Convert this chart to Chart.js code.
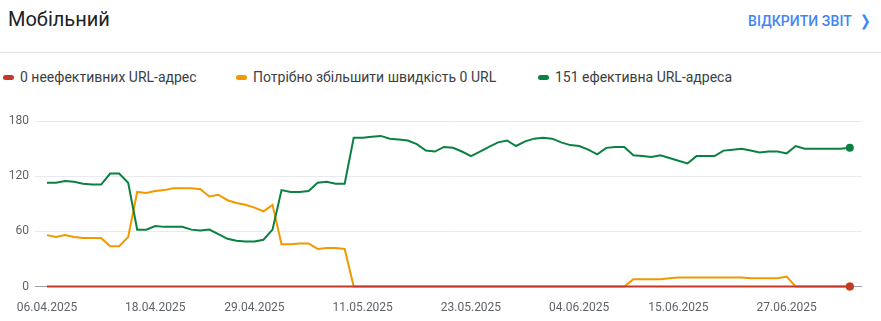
<!DOCTYPE html>
<html>
<head>
<meta charset="utf-8">
<script src="https://cdn.jsdelivr.net/npm/chart.js@4.4.1/dist/chart.umd.min.js"></script>
<style>
  html, body { margin: 0; padding: 0; background: #fff; }
  body { width: 881px; height: 321px; position: relative; overflow: hidden; font-family: Roboto, "Noto Sans", Arial, sans-serif; }
  #title { position: absolute; left: 8px; top: 7px; font-size: 20px; line-height: 24px; color: #202124; }
  #link { position: absolute; right: 9px; top: 12px; font-size: 14px; line-height: 18px; font-weight: 500; color: #4285f4; letter-spacing: 0.1px; }
  #link .chev { display: inline-block; margin-left: 7px; font-size: 15px; transform: scaleX(0.85); }
  #divider { position: absolute; left: 0; top: 52px; width: 881px; height: 1px; background: #e0e0e0; }
  .leg { position: absolute; top: 68px; font-size: 14px; line-height: 18px; color: #3c4043; white-space: nowrap; }
  .leg .mk { display: inline-block; width: 11px; height: 5px; border-radius: 2.5px; vertical-align: middle; margin-right: 6px; position: relative; top: -1px; }
  #wrap { position: absolute; left: 0; top: 108px; width: 881px; height: 221px; }
</style>
</head>
<body>
<div id="title">Мобільний</div>
<div id="link">ВІДКРИТИ ЗВІТ<span class="chev">❯</span></div>
<div id="divider"></div>
<div id="legend"></div>
<div id="wrap"><canvas id="c"></canvas></div>
<script>
const dates = [
  '06.04.2025','07.04.2025','08.04.2025','09.04.2025','10.04.2025','11.04.2025','12.04.2025','13.04.2025','14.04.2025','15.04.2025',
  '16.04.2025','17.04.2025','18.04.2025','19.04.2025','20.04.2025','21.04.2025','22.04.2025','23.04.2025','24.04.2025','25.04.2025',
  '26.04.2025','27.04.2025','28.04.2025','29.04.2025','30.04.2025',
  '01.05.2025','02.05.2025','03.05.2025','04.05.2025','05.05.2025','06.05.2025','07.05.2025','08.05.2025','09.05.2025','10.05.2025',
  '11.05.2025','12.05.2025','13.05.2025','14.05.2025','15.05.2025','16.05.2025','17.05.2025','18.05.2025','19.05.2025','20.05.2025',
  '21.05.2025','22.05.2025','23.05.2025','24.05.2025','25.05.2025','26.05.2025','27.05.2025','28.05.2025','29.05.2025','30.05.2025','31.05.2025',
  '01.06.2025','02.06.2025','03.06.2025','04.06.2025','05.06.2025','06.06.2025','07.06.2025','08.06.2025','09.06.2025','10.06.2025',
  '11.06.2025','12.06.2025','13.06.2025','14.06.2025','15.06.2025','16.06.2025','17.06.2025','18.06.2025','19.06.2025','20.06.2025',
  '21.06.2025','22.06.2025','23.06.2025','24.06.2025','25.06.2025','26.06.2025','27.06.2025','28.06.2025','29.06.2025','30.06.2025',
  '01.07.2025','02.07.2025','03.07.2025','04.07.2025'
];

const poorValues = [
  0,0,0,0,0,0,0,0,0,0, 0,0,0,0,0,0,0,0,0,0, 0,0,0,0,0,0,0,0,0,0,
  0,0,0,0,0,0,0,0,0,0, 0,0,0,0,0,0,0,0,0,0, 0,0,0,0,0,0,0,0,0,0,
  0,0,0,0,0,0,0,0,0,0, 0,0,0,0,0,0,0,0,0,0, 0,0,0,0,0,0,0,0,0,0
];

const needsImprovementValues = [
  56,54,56,54,53,53,53,44,44,54,
  103,102,104,105,107,107,107,106,98,100,
  94,91,89,86,82,89,46,46,47,47,
  41,42,42,41,0,0,0,0,0,0,
  0,0,0,0,0,0,0,0,0,0,
  0,0,0,0,0,0,0,0,0,0,
  0,0,0,0,0,8,8,8,8,9,
  10,10,10,10,10,10,10,10,9,9,
  9,9,11,0,0,0,0,0,0,0
];

const goodValues = [
  113,113,115,114,112,111,111,123,123,113,
  62,62,66,65,65,65,62,61,62,57,
  52,50,49,49,51,62,105,103,103,104,
  113,114,112,112,162,162,163,164,161,160,
  159,155,148,147,152,151,147,142,147,152,
  157,159,153,158,161,162,161,157,154,153,
  149,144,151,152,152,143,142,141,143,140,
  137,134,142,142,142,148,149,150,148,146,
  147,147,145,153,150,150,150,150,150,151
];

const tickLabels = ['06.04.2025','18.04.2025','29.04.2025','11.05.2025','23.05.2025','04.06.2025','15.06.2025','27.06.2025'];
const yTicks = [0, 60, 120, 180];

const seriesNames = ['0 неефективних URL-адрес', 'Потрібно збільшити швидкість 0 URL', '151 ефективна URL-адреса'];
const seriesColors = ['#c5392a', '#f29900', '#0b8043'];
const legendLeft = [3, 236, 538];

// legend (HTML)
const legendEl = document.getElementById('legend');
seriesNames.forEach((n, i) => {
  const d = document.createElement('div');
  d.className = 'leg';
  d.style.left = legendLeft[i] + 'px';
  d.innerHTML = '<span class="mk" style="background:' + seriesColors[i] + '"></span>' + n;
  legendEl.appendChild(d);
});

const last = dates.length - 1;
function mk(values, idx) {
  return {
    label: seriesNames[idx],
    data: values.map((v, i) => ({ x: i, y: v })),
    borderColor: seriesColors[idx],
    backgroundColor: seriesColors[idx],
    borderWidth: 2,
    tension: 0,
    fill: false,
    clip: false,
    pointRadius: (ctx) => ctx.dataIndex === last ? 4 : 0,
    pointHoverRadius: 0,
    pointBorderWidth: 0
  };
}

const tickIdx = tickLabels.map(t => dates.indexOf(t));

new Chart(document.getElementById('c'), {
  type: 'line',
  data: {
    datasets: [mk(poorValues, 0), mk(goodValues, 2), mk(needsImprovementValues, 1)]
  },
  options: {
    responsive: true,
    maintainAspectRatio: false,
    animation: false,
    events: [],
    layout: { padding: { left: 0, right: 19, top: 12, bottom: 0 } },
    plugins: { legend: { display: false }, tooltip: { enabled: false } },
    scales: {
      x: {
        type: 'linear',
        min: -1.33,
        max: last + 1.35,
        grid: { display: false, drawTicks: false },
        border: { display: false },
        afterBuildTicks: (scale) => { scale.ticks = tickIdx.map(v => ({ value: v })); },
        ticks: {
          autoSkip: false,
          maxRotation: 0,
          padding: 14,
          color: '#5f6368',
          font: { family: 'Roboto', size: 12 },
          callback: (v) => dates[v] || ''
        }
      },
      y: {
        min: 0,
        max: 180,
        afterBuildTicks: (scale) => { scale.ticks = yTicks.map(v => ({ value: v })); },
        afterFit: (scale) => { scale.width = 35; },
        grid: {
          drawTicks: false,
          color: (ctx) => ctx.tick && ctx.tick.value === 0 ? '#9aa0a6' : '#e8eaed',
          lineWidth: 1
        },
        border: { display: false },
        ticks: {
          padding: 6,
          color: '#5f6368',
          font: { family: 'Roboto', size: 12 }
        }
      }
    }
  }
});
</script>
</body>
</html>
